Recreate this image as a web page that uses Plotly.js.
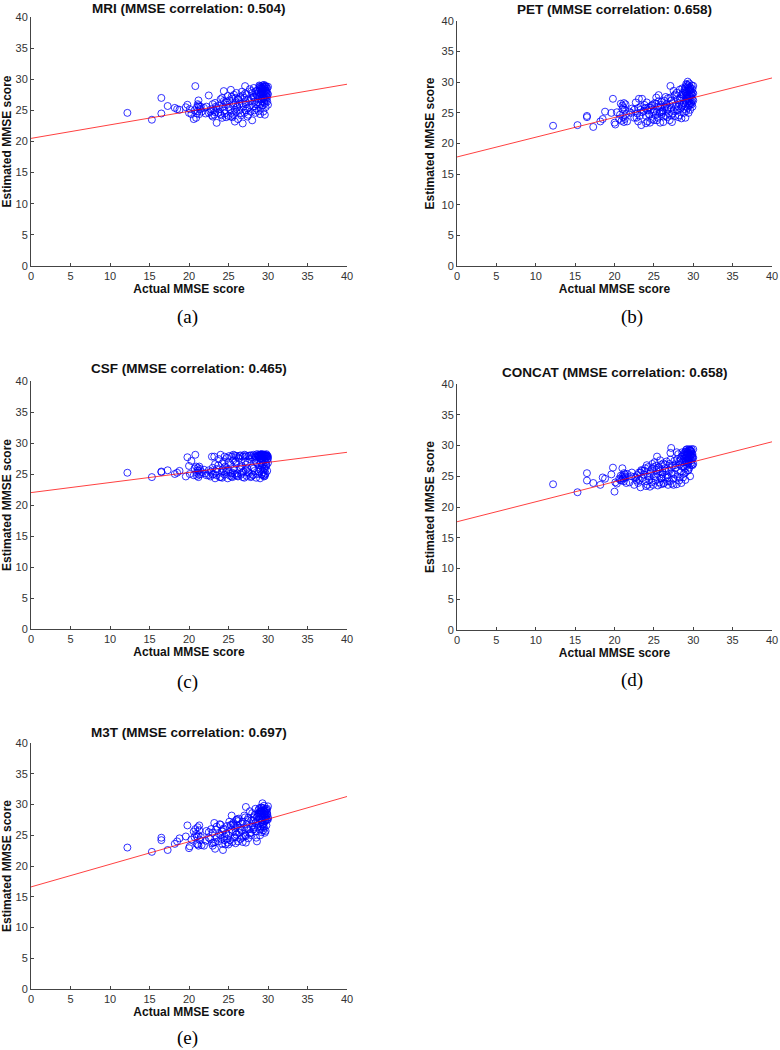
<!DOCTYPE html>
<html>
<head>
<meta charset="utf-8">
<script src="https://cdn.plot.ly/plotly-3.0.1.min.js"></script>
<style>html,body{margin:0;padding:0;background:#fff;}#chart{width:780px;height:1050px;}</style>
</head>
<body>
<div id="chart"></div>
<script>
// Actual MMSE score (shared by all five panels)
const actual = [
12.2,15.3,16.5,16.5,17.3,18.2,18.5,18.8,19.6,19.8,
20.0,20.1,20.3,20.6,20.8,20.9,21.0,21.0,21.1,21.2,
21.2,21.3,21.4,21.6,21.9,22.2,22.5,22.7,22.9,23.0,
23.1,23.2,23.3,23.4,23.5,23.7,23.9,24.0,24.1,24.2,
24.2,24.3,24.4,24.5,24.6,24.7,24.8,24.9,25.0,25.1,
25.2,25.3,25.4,25.5,25.5,25.6,25.7,25.8,25.9,26.0,
26.0,26.1,26.2,26.3,26.4,26.5,26.6,26.7,26.8,26.9,
27.0,27.0,27.1,27.2,27.2,27.3,27.4,27.5,27.6,27.7,
27.8,27.9,28.0,28.0,28.1,28.2,28.3,28.4,28.5,28.5,
28.6,28.7,28.8,28.9,28.9,29.0,29.0,29.0,29.1,29.1,
29.2,29.2,29.2,29.3,29.3,29.3,29.4,29.4,29.4,29.5,
29.5,29.5,29.6,29.6,29.6,29.7,29.7,29.7,29.8,29.8,
29.8,29.9,29.9,30.0,30.0,29.0,28.8,28.5,28.2,27.9,
27.5,27.2,26.8,26.5,26.2,25.8,25.4,25.0,24.5,24.0,
23.5,23.0,22.5,21.5,29.4,29.6,29.2,28.7,29.9,29.5,
28.9,29.1,29.3,29.5,29.7,29.9,29.2,29.4,29.6,29.8,
28.4,28.6,28.8,29.0,29.2,29.4,29.6,29.8,30.0,29.1,
27.1,27.4,27.7,28.1,28.3,26.4,26.7,25.6,25.9,24.8,
24.4,23.8,23.3,22.8,22.1,21.1,21.3,20.7,25.3,26.1
];

// Estimated MMSE score, one array per method
const estMRI = [
24.6,23.5,27.0,24.5,25.7,25.4,25.2,25.1,25.5,25.9,
24.6,25.2,24.4,23.6,28.9,23.8,25.5,24.5,26.0,26.6,
25.8,24.4,25.2,24.8,25.4,25.6,27.4,24.8,24.2,24.0,
25.0,24.3,26.2,25.6,23.0,24.6,25.2,26.8,24.2,27.0,
23.8,25.6,28.1,24.5,26.3,23.9,25.9,27.3,24.1,26.6,
25.2,28.3,24.6,26.9,23.9,25.8,27.5,23.2,26.2,24.8,
27.8,25.5,23.6,26.7,25.0,27.2,24.2,26.1,22.9,25.6,
27.0,24.6,28.9,26.3,25.0,27.6,24.0,26.8,25.5,28.4,
24.8,26.9,23.4,27.8,25.6,28.6,26.4,24.6,27.6,25.3,
28.2,26.8,24.9,29.0,27.3,28.5,26.0,27.7,28.8,25.4,
27.2,28.1,26.5,29.0,27.8,25.8,28.4,26.9,27.5,28.7,
26.3,27.9,24.3,28.9,27.0,28.2,25.5,27.4,28.8,26.6,
27.8,28.5,27.1,25.9,28.8,24.4,28.0,26.0,27.1,28.1,
24.3,26.0,27.4,24.5,26.9,25.1,27.2,25.5,25.0,24.4,
25.4,26.0,24.6,25.6,24.8,26.1,28.6,25.9,26.4,29.1,
28.7,27.6,28.4,27.2,28.9,27.7,26.8,28.8,28.5,27.3,
28.0,27.4,26.3,28.9,28.5,27.0,26.7,28.1,27.6,27.9,
27.7,25.3,26.5,27.2,25.0,26.0,28.0,24.3,27.0,26.4,
26.5,25.8,24.7,25.2,24.5,24.9,25.6,25.0,24.0,25.7
];
const estPET = [
22.9,23.0,24.5,24.3,22.7,23.6,24.0,25.2,25.0,27.3,
23.4,23.1,25.1,24.0,26.5,23.7,26.2,25.6,24.3,26.6,
23.5,25.5,26.4,23.6,25.2,25.7,24.2,26.7,24.9,25.8,
27.3,24.5,26.0,23.0,27.3,25.3,25.8,24.5,26.7,25.4,
23.6,25.9,24.8,23.4,25.5,26.2,24.0,25.1,23.8,26.6,
24.6,27.5,25.2,24.2,26.0,27.9,25.0,23.4,26.3,24.8,
26.8,25.4,23.5,27.0,25.9,24.5,26.4,25.6,27.4,24.9,
26.3,23.8,29.4,25.8,27.0,23.5,26.6,25.3,27.8,24.5,
26.0,28.3,25.4,27.2,24.3,26.6,28.8,25.7,27.5,24.1,
29.0,26.3,27.9,25.6,28.6,27.0,29.2,26.1,28.2,25.3,
27.6,29.6,26.7,30.1,28.0,25.8,29.0,27.3,26.2,28.6,
29.8,26.9,27.8,25.5,29.2,28.3,26.6,27.5,29.5,28.0,
26.4,27.2,28.9,27.0,29.4,24.2,25.0,26.0,24.6,25.5,
28.6,24.6,25.8,27.6,24.4,25.9,23.8,25.3,25.9,23.3,
25.1,23.6,25.5,24.8,25.0,28.8,27.9,28.3,26.0,27.7,
28.9,27.8,29.3,26.5,28.7,28.3,28.5,27.0,29.0,26.8,
27.0,28.0,26.6,28.4,27.3,29.5,26.3,27.9,28.2,29.7,
27.5,24.9,28.0,26.0,27.3,26.1,24.3,26.9,25.1,26.3,
24.7,26.3,25.5,24.2,25.0,25.9,24.0,24.7,26.5,25.2
];
const estCSF = [
25.2,24.5,25.3,25.4,25.6,25.0,25.2,25.5,24.6,27.7,
26.3,25.0,27.1,24.8,28.1,26.2,25.2,24.7,26.0,24.5,
25.5,24.9,25.8,25.3,25.7,24.8,25.6,24.6,27.8,26.0,
25.0,27.8,24.3,25.4,24.8,26.4,24.5,28.1,25.2,26.7,
24.4,25.8,27.0,24.9,26.2,25.4,27.6,24.3,25.7,27.9,
24.7,26.5,27.8,25.2,24.5,27.2,25.9,28.0,24.8,26.6,
27.9,25.1,24.6,27.5,25.8,28.0,24.9,26.3,27.8,25.4,
28.1,24.4,27.0,25.6,28.0,24.7,26.8,27.9,25.1,27.4,
24.5,28.0,26.1,27.7,24.8,28.1,25.5,27.6,24.4,26.9,
28.2,25.0,27.8,26.4,28.0,24.3,27.5,25.7,28.1,26.8,
27.9,24.9,28.0,26.0,27.6,28.2,25.3,27.8,26.6,28.0,
24.6,27.3,28.1,25.8,27.9,26.9,28.0,25.1,27.7,28.2,
26.3,27.9,25.5,27.8,26.8,27.9,25.4,27.8,25.9,24.6,
25.3,26.5,24.5,26.1,27.7,25.0,24.6,26.9,27.8,24.5,
25.8,24.9,24.8,25.0,24.8,24.9,26.3,27.9,28.0,25.9,
27.8,28.1,26.5,27.9,28.0,27.4,25.0,28.1,26.2,27.9,
27.9,26.7,28.1,27.6,28.0,27.9,24.7,26.5,27.5,28.2,
27.8,25.9,28.0,24.9,27.3,27.9,25.2,28.1,27.0,25.6,
25.5,27.4,26.6,25.4,25.1,25.6,26.2,25.9,25.1,24.7
];
const estCONCAT = [
23.7,22.4,25.5,24.3,23.9,23.6,24.8,24.6,25.3,26.4,
22.5,24.0,23.8,24.6,25.1,24.3,26.3,25.0,24.6,25.5,
24.2,25.0,24.8,25.4,24.0,25.6,23.6,24.8,25.2,23.9,
25.6,24.4,23.2,26.0,24.7,25.3,26.3,24.2,26.8,25.0,
23.6,26.5,24.4,23.3,25.7,24.0,26.2,23.6,25.0,27.3,
24.3,26.7,28.2,23.5,25.4,26.4,24.0,25.8,23.7,26.9,
24.6,25.6,27.1,23.9,26.3,24.8,27.4,25.2,23.6,26.0,
27.0,24.2,28.8,29.6,25.5,23.8,26.7,24.6,27.5,25.3,
26.4,23.7,27.8,25.0,28.6,24.3,26.9,25.7,28.2,23.9,
27.3,24.8,28.7,26.2,27.9,29.0,25.6,28.3,27.5,29.3,
28.0,26.7,29.4,27.7,28.6,25.9,29.2,28.1,27.3,28.8,
26.4,29.4,27.9,25.0,28.5,29.1,27.1,28.3,29.4,27.6,
28.9,26.8,28.2,29.4,27.0,24.4,25.4,26.6,27.4,28.9,
23.6,26.4,24.8,25.9,23.8,27.6,24.8,26.5,25.4,23.4,
25.9,24.6,24.9,23.9,26.0,28.4,27.2,28.4,28.6,27.8,
28.5,29.0,28.9,27.9,29.1,28.0,28.4,27.5,29.3,26.9,
27.8,28.9,26.6,27.9,28.8,27.1,29.2,28.6,28.0,27.6,
27.7,25.4,26.8,27.0,24.8,26.9,24.2,26.1,24.7,27.0,
24.9,25.9,25.6,24.3,25.0,24.7,25.3,24.4,26.0,25.3
];
const estM3T = [
23.0,22.3,24.6,24.2,22.6,23.6,24.0,24.5,24.8,26.6,
22.9,23.2,24.3,25.6,26.0,25.2,24.8,23.6,26.3,25.0,
23.3,26.6,24.2,23.4,23.3,25.7,24.6,24.4,23.7,25.4,
23.8,27.0,22.8,25.9,26.4,24.0,26.8,25.0,24.4,25.6,
23.6,22.6,26.1,24.8,23.5,25.3,26.5,23.8,25.0,27.2,
24.2,26.6,28.2,23.9,25.5,27.0,24.6,26.2,23.7,27.5,
25.1,26.6,24.0,27.7,25.4,24.4,26.9,25.8,27.2,24.8,
26.3,28.2,25.0,29.6,23.8,26.8,27.5,24.5,26.0,28.9,
25.4,27.4,26.6,28.6,25.9,27.9,26.3,29.3,25.6,27.2,
24.0,28.5,26.8,29.4,27.7,25.9,28.8,27.0,29.0,26.4,
28.3,25.5,27.5,30.2,28.7,26.7,29.4,27.9,25.8,28.5,
29.8,26.2,28.0,29.1,27.3,28.6,25.7,27.8,29.0,26.6,
28.2,27.5,29.3,29.7,27.9,25.0,28.1,24.6,26.0,25.0,
27.8,24.9,23.9,26.0,27.3,24.7,25.9,23.5,24.2,26.7,
24.6,23.3,25.5,24.7,26.8,25.4,28.9,26.3,28.4,27.0,
28.6,29.5,28.0,28.9,27.4,28.6,27.1,29.0,28.4,27.6,
27.0,28.0,29.1,28.3,29.5,26.4,28.8,29.2,27.6,28.5,
27.9,26.1,25.3,27.4,28.3,26.2,24.6,26.8,25.5,24.4,
25.9,25.2,23.9,26.0,24.1,23.5,25.8,24.7,26.7,27.6
];

// Fitted regression line endpoints (at actual = 0 and 40)
const lineX = [0, 40];
const fitMRI = [20.5, 29.2];
const fitPET = [17.8, 30.7];
const fitCSF = [22.0, 28.5];
const fitCONCAT = [17.6, 30.6];
const fitM3T = [16.6, 31.3];

const panelTitles = [
  'MRI (MMSE correlation: 0.504)',
  'PET (MMSE correlation: 0.658)',
  'CSF (MMSE correlation: 0.465)',
  'CONCAT (MMSE correlation: 0.658)',
  'M3T (MMSE correlation: 0.697)'
];
const panelLetters = ['(a)', '(b)', '(c)', '(d)', '(e)'];
const xTitle = 'Actual MMSE score';
const yTitle = 'Estimated MMSE score';
const tickValues = [0, 5, 10, 15, 20, 25, 30, 35, 40];

const estimates = [estMRI, estPET, estCSF, estCONCAT, estM3T];
const fits = [fitMRI, fitPET, fitCSF, fitCONCAT, fitM3T];

// pixel geometry of each panel: [left, right, top, bottom, titleY, letterX, letterY]
const W = 780, H = 1050;
const geom = [
  [31, 347, 17, 266, 8, 187, 317],
  [457, 772, 21, 266, 10, 632, 317],
  [31, 347, 381, 629, 368, 187, 682],
  [457, 772, 384, 630, 372, 632, 680],
  [31, 347, 743, 989, 732, 187, 1038]
];
const SANS = 'Liberation Sans, Arial, sans-serif';

const traces = [];
const layout = {
  width: W, height: H,
  margin: {l: 0, r: 0, t: 0, b: 0},
  paper_bgcolor: '#ffffff', plot_bgcolor: '#ffffff',
  showlegend: false,
  font: {family: SANS, color: '#333'},
  annotations: []
};

for (let i = 0; i < 5; i++) {
  const g = geom[i];
  const ax = i === 0 ? '' : String(i + 1);
  traces.push({
    type: 'scatter', mode: 'markers',
    x: actual, y: estimates[i],
    xaxis: 'x' + ax, yaxis: 'y' + ax,
    marker: {symbol: 'circle-open', size: 7, color: 'rgba(0,0,255,0.8)', line: {width: 1}},
    hoverinfo: 'x+y'
  });
  traces.push({
    type: 'scatter', mode: 'lines',
    x: lineX, y: fits[i],
    xaxis: 'x' + ax, yaxis: 'y' + ax,
    line: {color: 'rgba(255,0,0,0.75)', width: 1}
  });
  const axCommon = {
    range: [0, 40], tickmode: 'array', tickvals: tickValues,
    ticktext: tickValues.map(String),
    ticks: 'inside', ticklen: 3, tickwidth: 1, tickcolor: '#444',
    showline: true, linecolor: '#444', linewidth: 1,
    showgrid: false, zeroline: false,
    tickfont: {size: 11, color: '#333', family: SANS},
    fixedrange: true
  };
  layout['xaxis' + ax] = Object.assign({}, axCommon, {
    domain: [g[0] / W, g[1] / W],
    anchor: 'y' + ax,
    title: {text: '<b>' + xTitle + '</b>', standoff: 2,
            font: {size: 12, color: '#111', family: SANS}}
  });
  layout['yaxis' + ax] = Object.assign({}, axCommon, {
    domain: [1 - g[3] / H, 1 - g[2] / H],
    anchor: 'x' + ax,
    title: {text: '<b>' + yTitle + '</b>', standoff: 4,
            font: {size: 12, color: '#111', family: SANS}}
  });
  layout.annotations.push({
    text: '<b>' + panelTitles[i] + '</b>',
    xref: 'paper', yref: 'paper',
    x: (g[0] + g[1]) / 2 / W, y: 1 - g[4] / H,
    xanchor: 'center', yanchor: 'middle', showarrow: false,
    font: {size: 13.5, color: '#111', family: SANS}
  });
  layout.annotations.push({
    text: panelLetters[i],
    xref: 'paper', yref: 'paper',
    x: g[5] / W, y: 1 - g[6] / H,
    xanchor: 'center', yanchor: 'middle', showarrow: false,
    font: {size: 19, color: '#000', family: 'Liberation Serif, Times New Roman, serif'}
  });
}

Plotly.newPlot('chart', traces, layout, {staticPlot: true, displayModeBar: false});
</script>
</body>
</html>
